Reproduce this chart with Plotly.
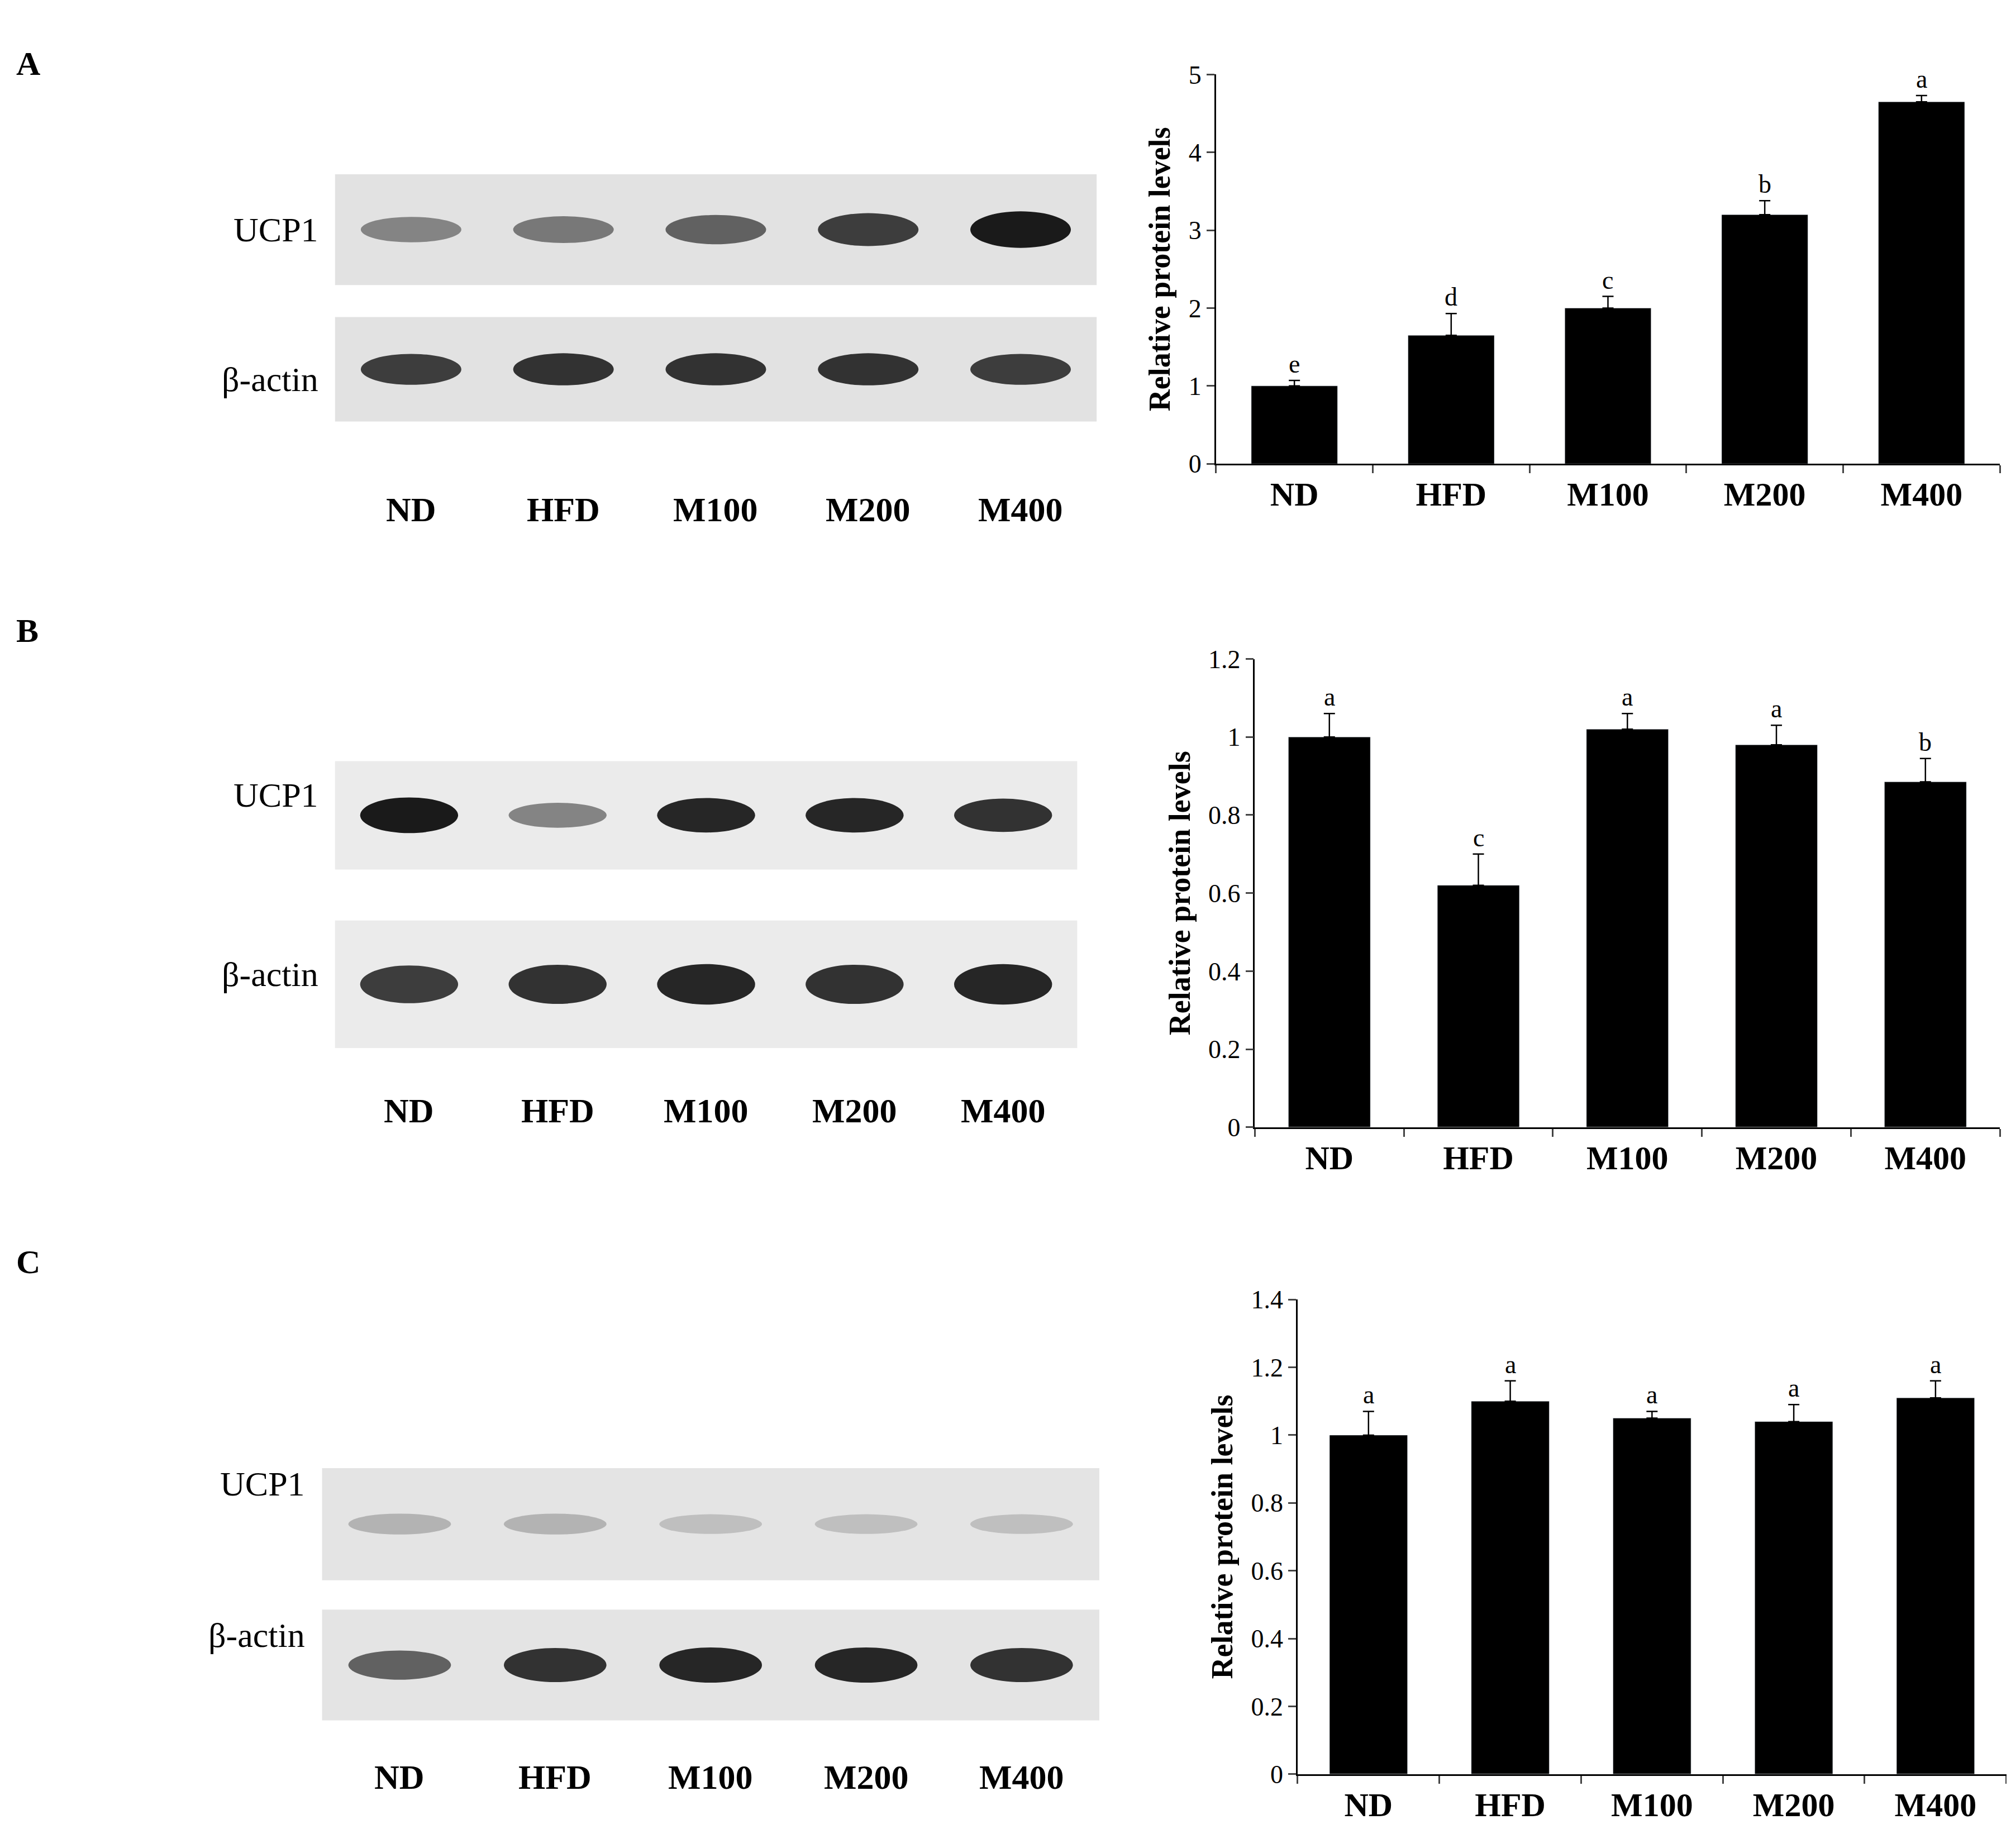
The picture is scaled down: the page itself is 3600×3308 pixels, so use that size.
import plotly.graph_objects as go

groups = ["ND", "HFD", "M100", "M200", "M400"]
vals_A = [1.0, 1.65, 2.0, 3.2, 4.65]
err_A = [0.07, 0.28, 0.15, 0.18, 0.08]
let_A = ["e", "d", "c", "b", "a"]
vals_B = [1.0, 0.62, 1.02, 0.98, 0.885]
err_B = [0.06, 0.08, 0.04, 0.05, 0.06]
let_B = ["a", "c", "a", "a", "b"]
vals_C = [1.0, 1.10, 1.05, 1.04, 1.11]
err_C = [0.07, 0.06, 0.02, 0.05, 0.05]
let_C = ["a", "a", "a", "a", "a"]
ucp_A = [0.5, 0.55, 0.65, 0.8, 0.95]
act_A = [0.8, 0.85, 0.85, 0.85, 0.8]
ucp_B = [0.95, 0.5, 0.9, 0.9, 0.85]
act_B = [0.8, 0.85, 0.9, 0.85, 0.9]
ucp_C = [0.3, 0.3, 0.25, 0.25, 0.25]
act_C = [0.65, 0.85, 0.9, 0.9, 0.85]

W, H = 1552.0, 1426.0
def fx(p): return p / W
def fy(p): return 1 - (p - 6) / H

F = "Liberation Serif"
fig = go.Figure()
panels = [
    dict(v=vals_A, e=err_A, l=let_A, ax="", xd=[fx(935), fx(1540)], yd=[fy(355), fy(50)], yr=[0, 5], dt=1,
         bx=[fx(255), fx(843)], by=[fy(322), fy(128)], bh=194, act=(0, 82), ucp=(107, 194), lab=53,
         bu=ucp_A, ba=act_A, bg="#e2e2e2", letter="A", ly=26),
    dict(v=vals_B, e=err_B, l=let_B, ax="2", xd=[fx(965), fx(1540)], yd=[fy(875), fy(508)], yr=[0, 1.2], dt=0.2,
         bx=[fx(255), fx(828)], by=[fy(813), fy(588)], bh=225, act=(0, 100), ucp=(140, 225), lab=49,
         bu=ucp_B, ba=act_B, bg="#ebebeb", letter="B", ly=486),
    dict(v=vals_C, e=err_C, l=let_C, ax="3", xd=[fx(998), fx(1545)], yd=[fy(1382), fy(1010)], yr=[0, 1.4], dt=0.2,
         bx=[fx(245), fx(845)], by=[fy(1340), fy(1142)], bh=198, act=(0, 87), ucp=(110, 198), lab=60,
         bu=ucp_C, ba=act_C, bg="#e4e4e4", letter="C", ly=996),
]
shapes, anns = [], []
for i, p in enumerate(panels):
    ax = p["ax"]
    fig.add_trace(go.Bar(x=groups, y=p["v"], marker_color="black", width=0.55,
                         error_y=dict(type="data", symmetric=False, array=p["e"], arrayminus=[0]*5,
                                      color="black", thickness=2.5, width=10),
                         xaxis="x" + ax, yaxis="y" + ax, showlegend=False))
    for g, v, e, l in zip(groups, p["v"], p["e"], p["l"]):
        anns.append(dict(x=g, y=v + e, xref="x" + ax, yref="y" + ax, text=l, showarrow=False,
                         yanchor="bottom", yshift=2, font=dict(family=F, size=46, color="black")))
    xa = dict(domain=p["xd"], anchor="y" + ax, showline=True, linecolor="black", linewidth=2.5,
              ticks="outside", tickson="boundaries", ticklen=14, tickwidth=2.5,
              tickfont=dict(family=F, size=60, color="black"), tickprefix="<b>", ticksuffix="</b>")
    ya = dict(domain=p["yd"], anchor="x" + ax, range=p["yr"], dtick=p["dt"], showline=True,
              linecolor="black", linewidth=2.5, ticks="outside", ticklen=14, tickwidth=2.5, showgrid=False,
              tickfont=dict(family=F, size=46, color="black"),
              title=dict(text="<b>Relative protein levels</b>", font=dict(family=F, size=54, color="black"), standoff=16))
    fig.update_layout(**{"xaxis" + ax: xa, "yaxis" + ax: ya})
    bn = str(4 + i)
    fig.update_layout(**{
        "xaxis" + bn: dict(domain=p["bx"], range=[-0.5, 4.5], visible=False, anchor="y" + bn),
        "yaxis" + bn: dict(domain=p["by"], range=[0, p["bh"]], visible=False, anchor="x" + bn)})
    fig.add_trace(go.Scatter(x=[None], y=[None], xaxis="x" + bn, yaxis="y" + bn, showlegend=False))
    for (y0, y1), inten, name, ys in [(p["act"], p["ba"], "β-actin", 18), (p["ucp"], p["bu"], "UCP1", 36)]:
        shapes.append(dict(type="rect", xref="x" + bn, yref="y" + bn, x0=-0.5, x1=4.5, y0=y0, y1=y1,
                           fillcolor=p["bg"], line=dict(width=0), layer="below"))
        yc = (y0 + y1) / 2
        for k, it in enumerate(inten):
            h = (y1 - y0) * (0.12 + 0.22 * it)
            c = int(235 * (1 - it) + 15)
            shapes.append(dict(type="circle", xref="x" + bn, yref="y" + bn, x0=k - 0.33, x1=k + 0.33,
                               y0=yc - h / 2, y1=yc + h / 2, fillcolor=f"rgb({c},{c},{c})",
                               line=dict(width=0)))
        anns.append(dict(x=p["bx"][0] - fx(12), y=(p["by"][0] + (p["by"][1] - p["by"][0]) * yc / p["bh"]),
                         xref="paper", yref="paper", text=name, showarrow=False, xanchor="right", yshift=ys,
                         font=dict(family=F, size=62, color="black")))
    for k, g in enumerate(groups):
        anns.append(dict(x=k, y=p["by"][0] - p["lab"] / H, xref="x" + bn, yref="paper", text="<b>%s</b>" % g,
                         showarrow=False, font=dict(family=F, size=62, color="black")))
    anns.append(dict(x=fx(8), y=fy(p["ly"]), xref="paper", yref="paper", text="<b>%s</b>" % p["letter"],
                     showarrow=False, xanchor="left", font=dict(family=F, size=60, color="black")))

fig.update_layout(width=3600, height=3308, paper_bgcolor="white", plot_bgcolor="white",
                  margin=dict(l=0, r=0, t=0, b=0), shapes=shapes, annotations=anns)
fig.write_html("out.html")
